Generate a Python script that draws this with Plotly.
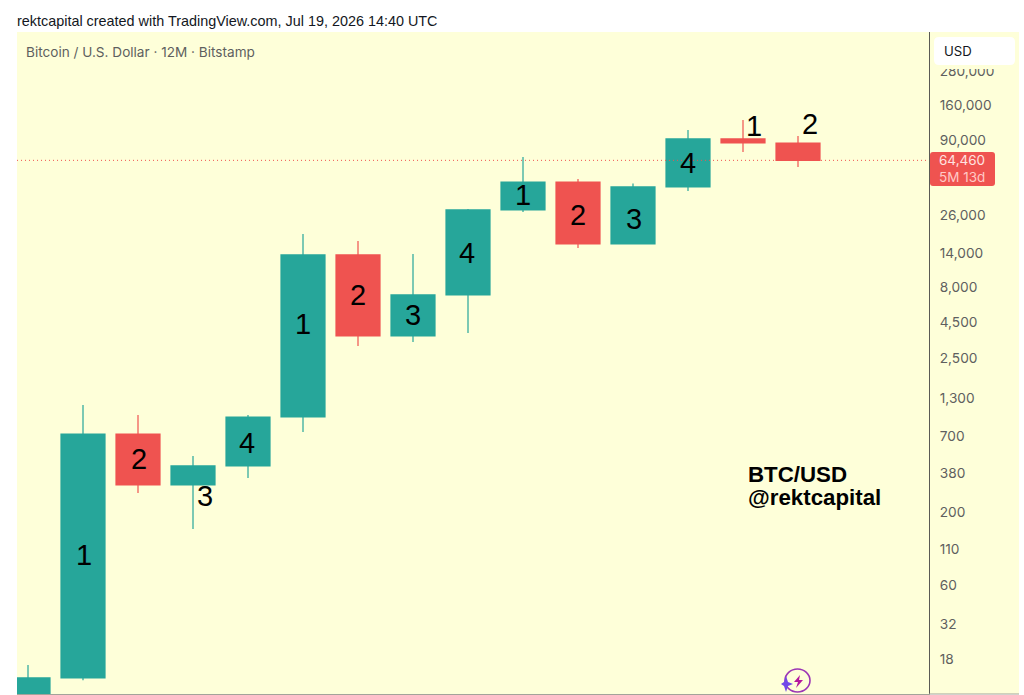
import plotly.graph_objects as go

# --------------------------
# Yearly candles
# --------------------------
years = list(range(2012, 2027))
opens = [5, 13.2, 723, 313, 428, 955, 13650, 3614, 7080, 28570, 45190, 16330, 41690, 91620, 85700]
highs = [16.3, 1163, 986, 504, 986, 19270, 17180, 13870, 29000, 68060, 47530, 44000, 106100, 125000, 96160]
lows = [4, 12.7, 275, 152, 351, 747, 3060, 3272, 3793, 27600, 15310, 16300, 38990, 73960, 57800]
closes = [13.2, 723, 313, 428, 955, 13650, 3614, 7080, 28570, 45190, 16330, 41690, 91620, 85700, 64460]

price_ticks = [280000, 160000, 90000, 26000, 14000, 8000, 4500, 2500, 1300, 700, 380, 200, 110, 60, 32, 18]
last_price = closes[-1]

cycle_labels = ["1", "2", "3", "4", "1", "2", "3", "4", "1", "2", "3", "4", "1", "2"]
label_x = [84, 139, 205, 247, 303, 358, 413, 467, 523, 578, 634, 688, 754, 810]
label_y = [555, 459, 496, 443, 324, 295, 315, 253, 195, 215, 219, 163, 126, 124]

UP = "#26A69A"
DOWN = "#EF5350"
CREAM = "#FEFFD9"
GREY = "#5f5f5f"

W, H = 1024, 695
L, R, T, B = 17, 929, 32, 694


# pixel position in the screenshot -> paper coordinates
def px(x):
    return (x - L) / (R - L)


def py(y):
    return (B - y) / (B - T)


def text(x, y, s, size, color="#131722", family="Liberation Sans", anchor="left"):
    fig.add_annotation(xref="paper", yref="paper", x=px(x), y=py(y), text=s, showarrow=False,
                       xanchor=anchor, yanchor="middle", align="left", borderpad=0, borderwidth=0,
                       font=dict(size=size, color=color, family=family))


def rect(x0, y0, x1, y1, color, layer="above"):
    fig.add_shape(type="rect", xref="paper", yref="paper", x0=px(x0), x1=px(x1), y0=py(y0), y1=py(y1),
                  fillcolor=color, line_width=0, layer=layer)


def rounded(x0, y0, x1, y1, r, color):
    a, b, c, d = px(x0), px(x1), py(y0), py(y1)
    rx, ry = r / (R - L), r / (B - T)
    path = (f"M {a + rx} {c} L {b - rx} {c} Q {b} {c} {b} {c - ry} L {b} {d + ry} Q {b} {d} {b - rx} {d} "
            f"L {a + rx} {d} Q {a} {d} {a} {d + ry} L {a} {c - ry} Q {a} {c} {a + rx} {c} Z")
    fig.add_shape(type="path", xref="paper", yref="paper", path=path, fillcolor=color, line_width=0, layer="above")


def icon_path(points, color):
    path = "M " + " L ".join(f"{px(x)} {py(y)}" for x, y in points) + " Z"
    fig.add_shape(type="path", xref="paper", yref="paper", path=path, fillcolor=color, line_width=0, layer="above")


fig = go.Figure()

fig.add_trace(go.Scatter(x=[2011, 2029], y=[last_price, last_price], mode="lines",
                         line=dict(color=DOWN, width=1, dash="1px 3px"), hoverinfo="skip"))

fig.add_trace(go.Candlestick(x=years, open=opens, high=highs, low=lows, close=closes,
                             increasing=dict(line=dict(color=UP, width=1.2), fillcolor=UP),
                             decreasing=dict(line=dict(color=DOWN, width=1.2), fillcolor=DOWN),
                             whiskerwidth=0))

fig.update_layout(
    width=W, height=H, showlegend=False, paper_bgcolor="white", plot_bgcolor=CREAM,
    margin=dict(l=L, r=W - R, t=T, b=H - B, autoexpand=False), boxgap=0.2, boxgroupgap=0,
    font=dict(family="Inter", color=GREY, size=13),
    xaxis=dict(range=[2012 - 11 / 55, 2012 + 901 / 55], rangeslider_visible=False, showgrid=False,
               zeroline=False, showticklabels=False, ticks="", showline=True, linecolor="#a3a39a", linewidth=1),
    yaxis=dict(type="log", range=[1.006, 5.724], side="right", showgrid=False, zeroline=False,
               tickmode="array", tickvals=price_ticks, ticktext=[f"{v:,}" for v in price_ticks],
               ticks="", ticklabelstandoff=7, tickfont=dict(size=13.7, color=GREY, family="Inter"),
               showline=True, linecolor="#5a5a55", linewidth=1),
)

# price scale panel and its overlays
rect(R, T, 1019, B, CREAM, layer="below")
fig.add_shape(type="line", xref="paper", yref="paper", x0=1, x1=px(1019), y0=0, y1=0,
              line=dict(color="#a3a39a", width=1), layer="above")
rect(R + 1, T, 1019, 69, CREAM)
rounded(934, 37, 1015, 65, 5, "#ffffff")
text(944, 51, "USD", 13.2, color="#131722", family="Inter")
rounded(930, 152, 995, 186, 3, DOWN)
text(939, 160, f"{last_price:,}", 13.5, color="#ffe3e1", family="Inter")
text(939, 176.5, "5M 13d", 13.5, color="#ffc9c6", family="Inter")

# headers
text(17, 21, "rektcapital created with TradingView.com, Jul 19, 2026 14:40 UTC", 14.4)
text(26, 52, "Bitcoin / U.S. Dollar · 12M · Bitstamp", 13.6, color=GREY, family="Inter")

# cycle numbers
for s, x, y in zip(cycle_labels, label_x, label_y):
    text(x, y, s, 29, color="#000000", anchor="center")

text(748, 474, "<b>BTC/USD</b>", 22.3, color="#000000")
text(748, 497, "<b>@rektcapital</b>", 22.3, color="#000000")

# bolt badge
fig.add_shape(type="circle", xref="paper", yref="paper", x0=px(785), x1=px(810), y0=py(669), y1=py(692),
              line=dict(color="#9c36b5", width=1.6), fillcolor=CREAM, layer="above")
icon_path([(800, 675), (794, 682), (798, 682), (796, 688), (803, 680), (799, 680)], "#b5179e")
icon_path([(786, 676), (788, 682), (793, 684), (788, 686), (786, 692), (784, 686), (781, 684), (784, 682)], "#7048e8")

fig.write_html("out.html", config=dict(displayModeBar=False),
               post_script="document.body.style.margin='0';document.body.style.background='white';")
